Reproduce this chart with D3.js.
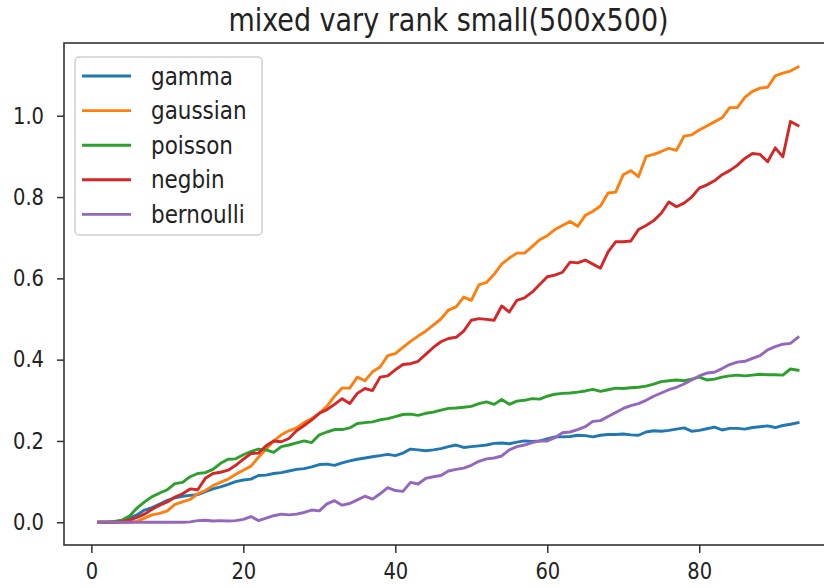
<!DOCTYPE html>
<html>
<head>
<meta charset="utf-8">
<script src="https://cdn.jsdelivr.net/npm/d3@7"></script>
<style>
body { margin: 0; background: #fff; }
text { font-family: "DejaVu Sans", sans-serif; fill: #222; }
.tall { transform: scaleY(1.15); transform-box: fill-box; transform-origin: center; }
</style>
</head>
<body>
<div id="chart"></div>
<script>
var w = 824;
var h = 588;

var ranks = d3.range(1, 94);

var gamma = [0, 0, 0, 0.003, 0.01, 0.018, 0.03, 0.036, 0.045, 0.054,
  0.06, 0.064, 0.066, 0.068, 0.075, 0.082, 0.087, 0.093, 0.1, 0.104,
  0.106, 0.115, 0.116, 0.12, 0.122, 0.126, 0.13, 0.132, 0.136, 0.142,
  0.143, 0.14, 0.146, 0.151, 0.155, 0.158, 0.161, 0.164, 0.167, 0.164,
  0.17, 0.18, 0.178, 0.176, 0.178, 0.181, 0.186, 0.19, 0.184, 0.186,
  0.188, 0.19, 0.194, 0.195, 0.193, 0.197, 0.2, 0.199, 0.2, 0.205,
  0.21, 0.21, 0.211, 0.214, 0.213, 0.21, 0.214, 0.216, 0.216, 0.217,
  0.215, 0.214, 0.222, 0.225, 0.224, 0.226, 0.229, 0.232, 0.224, 0.226,
  0.23, 0.234, 0.227, 0.231, 0.231, 0.229, 0.233, 0.235, 0.237, 0.233,
  0.238, 0.241, 0.245];

var gaussian = [0, 0, 0, 0, 0, 0.002, 0.01, 0.018, 0.022, 0.028,
  0.044, 0.05, 0.056, 0.07, 0.078, 0.09, 0.098, 0.106, 0.118, 0.128,
  0.138, 0.16, 0.18, 0.2, 0.215, 0.225, 0.232, 0.245, 0.255, 0.268,
  0.285, 0.31, 0.33, 0.33, 0.357, 0.348, 0.37, 0.382, 0.41, 0.415,
  0.43, 0.445, 0.458, 0.47, 0.485, 0.5, 0.522, 0.53, 0.554, 0.546,
  0.584, 0.59, 0.61, 0.635, 0.65, 0.662, 0.662, 0.678, 0.695, 0.705,
  0.72, 0.73, 0.74, 0.728, 0.755, 0.765, 0.778, 0.81, 0.812, 0.855,
  0.865, 0.85, 0.9, 0.905, 0.912, 0.92, 0.915, 0.95, 0.953, 0.965,
  0.975, 0.985, 0.995, 1.02, 1.02, 1.045, 1.06, 1.068, 1.07, 1.098,
  1.105, 1.11, 1.12];

var poisson = [0, 0, 0.002, 0.005, 0.015, 0.035, 0.05, 0.063, 0.072, 0.08,
  0.095, 0.098, 0.112, 0.12, 0.122, 0.13, 0.145, 0.155, 0.156, 0.166,
  0.174, 0.18, 0.178, 0.172, 0.186, 0.19, 0.195, 0.2, 0.196, 0.215,
  0.222, 0.228, 0.228, 0.232, 0.243, 0.245, 0.247, 0.252, 0.255, 0.26,
  0.265, 0.266, 0.263, 0.268, 0.271, 0.276, 0.28, 0.281, 0.283, 0.285,
  0.292, 0.296, 0.29, 0.302, 0.29, 0.298, 0.3, 0.304, 0.303, 0.31,
  0.315, 0.317, 0.318, 0.32, 0.323, 0.327, 0.322, 0.326, 0.33, 0.329,
  0.331, 0.332, 0.335, 0.34, 0.346, 0.348, 0.35, 0.348, 0.352, 0.357,
  0.35, 0.352, 0.357, 0.36, 0.362, 0.36, 0.362, 0.364, 0.363, 0.363,
  0.362, 0.377, 0.374];

var negbin = [0, 0, 0, 0.002, 0.005, 0.012, 0.02, 0.032, 0.042, 0.05,
  0.062, 0.07, 0.082, 0.08, 0.108, 0.12, 0.123, 0.128, 0.14, 0.155,
  0.169, 0.17, 0.188, 0.2, 0.198, 0.206, 0.225, 0.238, 0.252, 0.268,
  0.277, 0.29, 0.304, 0.292, 0.317, 0.329, 0.324, 0.357, 0.36, 0.375,
  0.388, 0.39, 0.396, 0.413, 0.43, 0.444, 0.452, 0.455, 0.47, 0.497,
  0.501, 0.499, 0.497, 0.532, 0.517, 0.546, 0.552, 0.566, 0.585, 0.604,
  0.608, 0.615, 0.64, 0.638, 0.645, 0.635, 0.625, 0.665, 0.69, 0.69,
  0.692, 0.72, 0.73, 0.742, 0.76, 0.788, 0.776, 0.785, 0.8, 0.822,
  0.83, 0.84, 0.855, 0.865, 0.878, 0.895, 0.907, 0.905, 0.887, 0.921,
  0.899, 0.986, 0.976];

var bernoulli = [0, 0, 0, 0, 0, 0, 0, 0, 0, 0,
  0, 0, 0.001, 0.004, 0.005, 0.003, 0.004, 0.003, 0.004, 0.007,
  0.014, 0.004, 0.01, 0.016, 0.02, 0.018, 0.02, 0.024, 0.03, 0.028,
  0.045, 0.053, 0.042, 0.046, 0.055, 0.064, 0.057, 0.07, 0.085, 0.078,
  0.076, 0.098, 0.094, 0.108, 0.112, 0.115, 0.126, 0.13, 0.133, 0.14,
  0.15, 0.156, 0.158, 0.163, 0.178, 0.186, 0.19, 0.196, 0.2, 0.2,
  0.208, 0.22, 0.222, 0.228, 0.235, 0.248, 0.25, 0.26, 0.27, 0.28,
  0.287, 0.292, 0.3, 0.31, 0.318, 0.326, 0.332, 0.34, 0.35, 0.36,
  0.367, 0.369, 0.378, 0.388, 0.394, 0.396, 0.403, 0.41, 0.424, 0.432,
  0.438, 0.44, 0.455];

var names = ["gamma", "gaussian", "poisson", "negbin", "bernoulli"];
var colors = ["#1f77b4", "#ff7f0e", "#2ca02c", "#d62728", "#9467bd"];
var series = [gamma, gaussian, poisson, negbin, bernoulli];

var xTicks = [0, 20, 40, 60, 80];
var yTicks = [0, 0.2, 0.4, 0.6, 0.8, 1.0];

// axes box (right edge falls just outside the picture, like the original)
var axL = 64, axR = 833, axT = 43, axB = 545;

var x = d3.scaleLinear().domain([-3.6, 97.6]).range([axL, axR]);
var y = d3.scaleLinear().domain([-0.056, 1.179]).range([axB, axT]);

var svg = d3.select("#chart")
            .append("svg")
            .attr("width", w)
            .attr("height", h);

svg.append("text")
   .attr("class", "tall")
   .attr("x", (axL + axR) / 2)
   .attr("y", 30)
   .attr("text-anchor", "middle")
   .attr("font-size", "27px")
   .text("mixed vary rank small(500x500)");

var line = d3.line()
    .x(function(d, i) { return x(ranks[i]); })
    .y(function(d) { return y(d); });

svg.selectAll("path.series")
   .data(series)
   .enter()
   .append("path")
   .attr("class", "series")
   .attr("d", line)
   .attr("fill", "none")
   .attr("stroke", function(d, i) { return colors[i]; })
   .attr("stroke-width", 2.9)
   .attr("stroke-linejoin", "round")
   .attr("stroke-linecap", "square");

var xAxis = svg.append("g")
   .attr("transform", "translate(0," + axB + ")")
   .call(d3.axisBottom(x).tickValues(xTicks).tickSize(8).tickPadding(11).tickFormat(d3.format("d")));

var yAxis = svg.append("g")
   .attr("transform", "translate(" + axL + ",0)")
   .call(d3.axisLeft(y).tickValues(yTicks).tickSize(7).tickPadding(13).tickFormat(d3.format(".1f")));

[xAxis, yAxis].forEach(function(g) {
  g.select(".domain").remove();
  g.selectAll(".tick line").attr("stroke", "#333").attr("stroke-width", 1.5);
  g.selectAll(".tick text")
   .attr("class", "tall")
   .attr("font-size", "19.5px")
   .attr("font-family", "DejaVu Sans, sans-serif")
   .attr("fill", "#222");
});

svg.append("rect")
   .attr("x", axL)
   .attr("y", axT)
   .attr("width", axR - axL)
   .attr("height", axB - axT)
   .attr("fill", "none")
   .attr("stroke", "#333")
   .attr("stroke-width", 1.6);

// legend
var legend = svg.append("g");

legend.append("rect")
   .attr("x", 75)
   .attr("y", 57)
   .attr("width", 187)
   .attr("height", 178)
   .attr("rx", 4)
   .attr("fill", "#fff")
   .attr("fill-opacity", 0.8)
   .attr("stroke", "#d0d0d0")
   .attr("stroke-width", 1.5);

var rows = legend.selectAll("g.row")
   .data(names)
   .enter()
   .append("g")
   .attr("class", "row")
   .attr("transform", function(d, i) { return "translate(0," + (76 + i * 34.6) + ")"; });

rows.append("line")
   .attr("x1", 82)
   .attr("x2", 131)
   .attr("stroke", function(d, i) { return colors[i]; })
   .attr("stroke-width", 2.9);

rows.append("text")
   .attr("class", "tall")
   .attr("x", 151)
   .attr("dy", "0.35em")
   .attr("font-size", "21.5px")
   .text(function(d) { return d; });
</script>
</body>
</html>
